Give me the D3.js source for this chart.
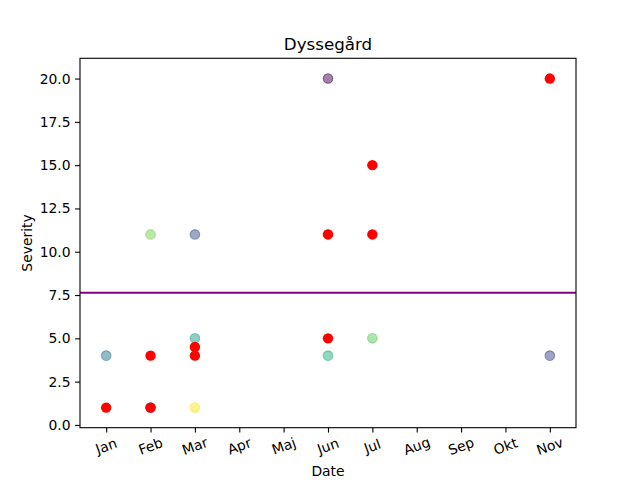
<!DOCTYPE html>
<html>
<head>
<meta charset="utf-8">
<script src="https://cdnjs.cloudflare.com/ajax/libs/d3/7.8.5/d3.min.js"></script>
<style>
body { margin: 0; background: white; }
svg text { font-family: "DejaVu Sans", sans-serif; fill: black; }
</style>
</head>
<body>
<svg id="canvas" width="640" height="480"></svg>
<script>
// month labels (Danish)
var monthLabels = ["Jan", "Feb", "Mar", "Apr", "Maj", "Jun", "Jul", "Aug", "Sep", "Okt", "Nov"];
var monthTicks = [1, 2, 3, 4, 5, 6, 7, 8, 9, 10, 11];
var yTicks = [0, 2.5, 5, 7.5, 10, 12.5, 15, 17.5, 20];

// semi transparent (viridis coloured) observations
var otherMonth    = [1, 2, 2, 3, 3, 3, 6, 6, 6, 7, 11];
var otherSeverity = [4, 11, 1, 11, 5, 1, 20, 4, 11, 5, 4];
var otherColor    = ["#2a788e", "#7ad151", "#46327e", "#3b528b", "#1f9e89", "#fde725",
                     "#440154", "#2ab07f", "#b5de2b", "#5ec962", "#414487"];

// red observations
var redMonth    = [1, 2, 2, 3, 3, 6, 6, 7, 7, 11];
var redSeverity = [1, 4, 1, 4.5, 4, 11, 5, 15, 11, 20];

var meanSeverity = 7.63;

var svg = d3.select("#canvas");
var axLeft = 80, axRight = 576, axTop = 58.3, axBottom = 427.7;

var x = d3.scaleLinear().domain([0.41, 11.59]).range([axLeft, axRight]);
var y = d3.scaleLinear().domain([-0.16, 21.17]).range([axBottom, axTop]);

// x axis
var xAxis = svg.append("g")
    .attr("transform", "translate(0," + axBottom + ")")
    .call(d3.axisBottom(x).tickValues(monthTicks).tickSize(4.9).tickFormat(""));
xAxis.select(".domain").remove();
xAxis.selectAll(".tick line").attr("stroke-width", 1.1);

svg.append("g").selectAll("text")
    .data(monthTicks)
    .enter().append("text")
    .attr("transform", function(d) { return "translate(" + x(d) + ",446) rotate(-20)"; })
    .attr("text-anchor", "middle")
    .attr("dominant-baseline", "central")
    .style("font-size", "13.9px")
    .text(function(d, i) { return monthLabels[i]; });

// y axis
var yAxis = svg.append("g")
    .attr("transform", "translate(" + axLeft + ",0)")
    .call(d3.axisLeft(y).tickValues(yTicks).tickSize(4.9).tickPadding(4.5)
          .tickFormat(d3.format(".1f")));
yAxis.select(".domain").remove();
yAxis.selectAll(".tick line").attr("stroke-width", 1.1);
yAxis.selectAll(".tick text")
    .style("font-size", "13.9px")
    .style("font-family", "DejaVu Sans, sans-serif");

// points
svg.append("g").selectAll("circle")
    .data(otherMonth)
    .enter().append("circle")
    .attr("cx", function(d) { return x(d); })
    .attr("cy", function(d, i) { return y(otherSeverity[i]); })
    .attr("r", 4.8)
    .style("fill", function(d, i) { return otherColor[i]; })
    .style("fill-opacity", 0.5)
    .style("stroke", function(d, i) { return otherColor[i]; })
    .style("stroke-opacity", 0.5)
    .style("stroke-width", 1.1);

svg.append("g").selectAll("circle")
    .data(redMonth)
    .enter().append("circle")
    .attr("cx", function(d) { return x(d); })
    .attr("cy", function(d, i) { return y(redSeverity[i]); })
    .attr("r", 5.2)
    .style("fill", "red");

// mean line
svg.append("line")
    .attr("x1", axLeft).attr("x2", axRight)
    .attr("y1", y(meanSeverity)).attr("y2", y(meanSeverity))
    .attr("stroke", "purple")
    .attr("stroke-width", 2);

// frame
svg.append("rect")
    .attr("x", axLeft).attr("y", axTop)
    .attr("width", axRight - axLeft).attr("height", axBottom - axTop)
    .attr("fill", "none")
    .attr("stroke", "black")
    .attr("stroke-width", 1.1);

// labels
svg.append("text")
    .attr("x", (axLeft + axRight) / 2).attr("y", 50)
    .attr("text-anchor", "middle")
    .style("font-size", "16.7px")
    .text("Dyssegård");

svg.append("text")
    .attr("x", (axLeft + axRight) / 2).attr("y", 471)
    .attr("text-anchor", "middle")
    .attr("dominant-baseline", "central")
    .style("font-size", "13.9px")
    .text("Date");

svg.append("text")
    .attr("transform", "translate(27," + ((axTop + axBottom) / 2) + ") rotate(-90)")
    .attr("text-anchor", "middle")
    .attr("dominant-baseline", "central")
    .style("font-size", "13.9px")
    .text("Severity");
</script>
</body>
</html>
